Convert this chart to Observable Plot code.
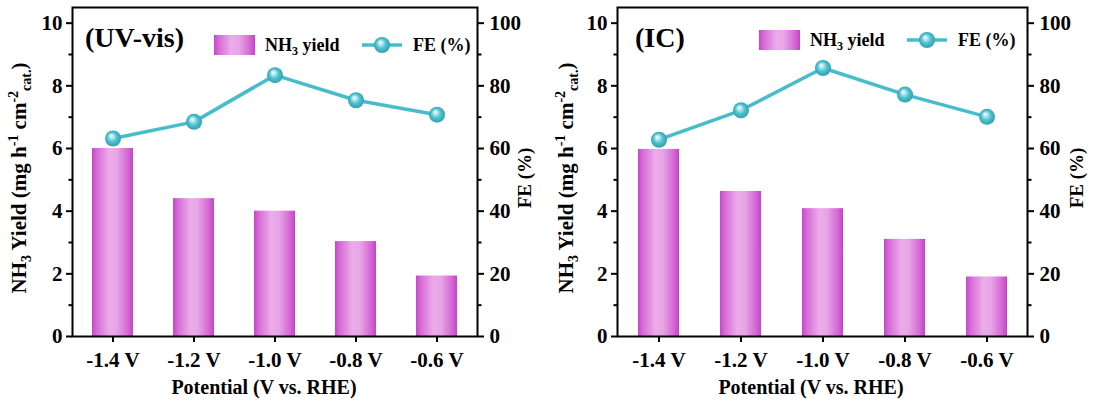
<!DOCTYPE html>
<html><head><meta charset="utf-8">
<script src="https://cdn.jsdelivr.net/npm/d3@7"></script>
<script src="https://cdn.jsdelivr.net/npm/@observablehq/plot@0.6"></script>
<style>
body{margin:0;background:#fff;}
#wrap{display:flex;width:1094px;height:405px;overflow:hidden;}
#wrap svg{display:block;}
#wrap svg text{font-family:"Liberation Serif","Times New Roman",serif !important;font-weight:bold;}
</style></head><body><div id="wrap"></div>
<script>
const potentials = ["-1.4 V", "-1.2 V", "-1.0 V", "-0.8 V", "-0.6 V"];
const yieldUV = [6.0, 4.4, 4.0, 3.03, 1.93];
const feUV = [63.2, 68.5, 83.4, 75.4, 70.8];
const yieldIC = [5.97, 4.63, 4.08, 3.10, 1.90];
const feIC = [62.8, 72.2, 85.7, 77.2, 70.1];
const yieldTicks = [0, 2, 4, 6, 8, 10];
const yieldMinor = [1, 3, 5, 7, 9];
const feTicks = [0, 20, 40, 60, 80, 100];
const titles = ["(UV-vis)", "(IC)"];
const xLabel = "Potential (V vs. RHE)";
const feLabel = "FE (%)";

const FONT = "Liberation Serif, Times New Roman, serif";
const LINE = "#47BDCC";

function panel(id, title, yields, fes, opt) {
  const W = 547, H = 405;
  const data = potentials.map((p, i) => ({p, y: yields[i], fe: fes[i]}));
  const plot = Plot.plot({
    width: W, height: H,
    marginLeft: opt.ml, marginRight: opt.mr, marginTop: 7, marginBottom: 69,
    style: {fontFamily: FONT, fontWeight: "bold", fontSize: "20px", color: "#000", background: "#fff"},
    x: {type: "band", domain: potentials, paddingInner: 0.5, paddingOuter: 0.25, label: null},
    y: {domain: [0, 10.5], label: null},
    marks: [
      Plot.barY(data, {x: "p", y: "y", fill: `url(#bar-${id})`}),
      Plot.line(data, {x: "p", y: d => d.fe / 10, stroke: LINE, strokeWidth: 3.5}),
      Plot.dot(data, {x: "p", y: d => d.fe / 10, r: 8, fill: `url(#ball-${id})`, stroke: "none"}),
      Plot.frame({stroke: "#000", strokeWidth: 2}),
      Plot.axisY(yieldTicks, {anchor: "left", tickSize: 6, tickPadding: 4, strokeWidth: 2, fontSize: 21, fontWeight: "bold", label: null}),
      Plot.axisY(yieldMinor, {anchor: "left", tickSize: 3.5, strokeWidth: 2, tickFormat: () => "", label: null}),
      Plot.axisY(yieldTicks, {anchor: "right", tickSize: 6, tickPadding: 6, strokeWidth: 2, fontSize: 21, fontWeight: "bold", tickFormat: d => feTicks[yieldTicks.indexOf(d)], label: null}),
      Plot.axisY(yieldMinor, {anchor: "right", tickSize: 3.5, strokeWidth: 2, tickFormat: () => "", label: null}),
      Plot.axisX({anchor: "bottom", tickSize: 6, tickPadding: 10, strokeWidth: 2, fontSize: 21, fontWeight: "bold", label: null})
    ]
  });
  const svg = d3.select(plot);
  const defs = svg.insert("defs", ":first-child");
  const g = defs.append("linearGradient").attr("id", `bar-${id}`).attr("x1", 0).attr("x2", 1).attr("y1", 0).attr("y2", 0);
  [[0, "#C846C8"], [0.12, "#D66CD6"], [0.42, "#EBACE9"], [0.6, "#E8A6E6"], [0.88, "#D466D4"], [1, "#C542C5"]]
    .forEach(([o, c]) => g.append("stop").attr("offset", o).attr("stop-color", c));
  const rg = defs.append("radialGradient").attr("id", `ball-${id}`).attr("cx", 0.5).attr("cy", 0.5).attr("r", 0.55).attr("fx", 0.38).attr("fy", 0.32);
  [[0, "#FFFFFF"], [0.22, "#B6EAF0"], [0.55, "#4EC0CE"], [1, "#2A9BAB"]]
    .forEach(([o, c]) => rg.append("stop").attr("offset", o).attr("stop-color", c));

  const T = svg.append("g").attr("font-family", FONT).attr("font-weight", "bold").attr("fill", "#000").attr("text-anchor", "start");
  T.append("text").attr("x", opt.tx).attr("y", 47).attr("font-size", 28).text(title);
  const lx = opt.lx, ly = opt.ly;
  T.append("rect").attr("x", lx).attr("y", ly - 10).attr("width", 41).attr("height", 20).attr("fill", `url(#bar-${id})`);
  const t1 = T.append("text").attr("x", lx + 51).attr("y", ly + 6).attr("font-size", 18);
  t1.append("tspan").text("NH");
  t1.append("tspan").attr("font-size", 12).attr("dy", 4).text("3");
  t1.append("tspan").attr("dy", -4).text(" yield");
  T.append("line").attr("x1", lx + 148).attr("x2", lx + 188).attr("y1", ly).attr("y2", ly).attr("stroke", LINE).attr("stroke-width", 3.5);
  T.append("circle").attr("cx", lx + 168).attr("cy", ly).attr("r", 8).attr("fill", `url(#ball-${id})`);
  T.append("text").attr("x", lx + 199).attr("y", ly + 6).attr("font-size", 18).text(feLabel);
  const yl = T.append("text").attr("transform", `translate(${opt.ylx},178) rotate(-90)`).attr("text-anchor", "middle").attr("font-size", 21);
  yl.append("tspan").text("NH");
  yl.append("tspan").attr("font-size", 14).attr("dy", 5).text("3");
  yl.append("tspan").attr("dy", -5).text(" Yield (mg h");
  yl.append("tspan").attr("font-size", 14).attr("dy", -8).text("-1");
  yl.append("tspan").attr("dy", 8).text(" cm");
  yl.append("tspan").attr("font-size", 14).attr("dy", -8).text("-2");
  yl.append("tspan").attr("font-size", 14).attr("dy", 13).text("cat.");
  yl.append("tspan").attr("dy", -5).text(")");
  T.append("text").attr("transform", `translate(${opt.yrx},178) rotate(-90)`).attr("text-anchor", "middle").attr("font-size", 19).text(feLabel);
  T.append("text").attr("x", 264).attr("y", 394).attr("text-anchor", "middle").attr("font-size", 20).text(xLabel);
  return plot;
}

const wrap = document.getElementById("wrap");
wrap.appendChild(panel("uv", titles[0], yieldUV, feUV, {ml: 72, mr: 70, tx: 85, lx: 214, ly: 45, ylx: 26, yrx: 531}));
wrap.appendChild(panel("ic", titles[1], yieldIC, feIC, {ml: 70, mr: 67, tx: 88, lx: 212, ly: 40, ylx: 26, yrx: 536}));
</script></body></html>
